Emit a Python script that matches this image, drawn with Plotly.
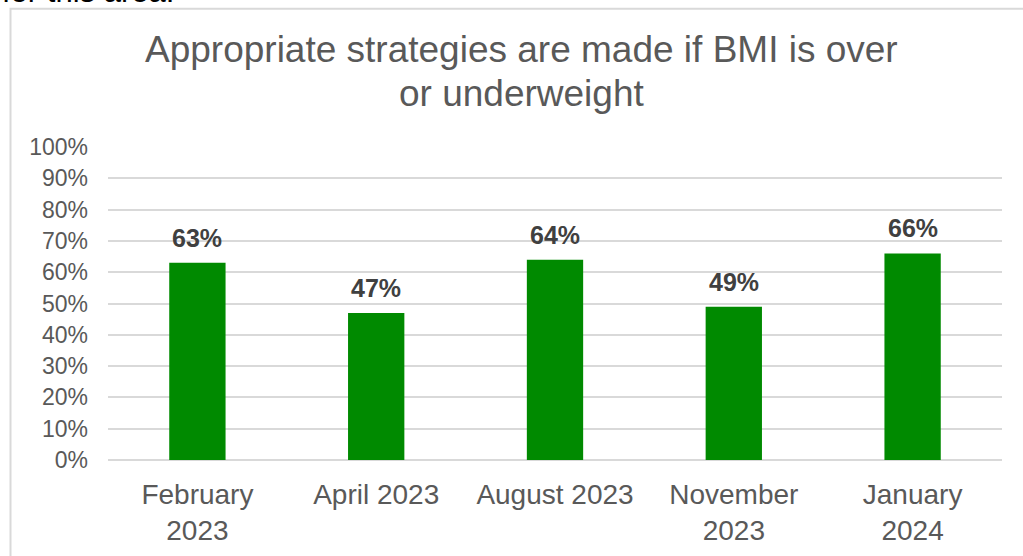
import plotly.graph_objects as go

# Survey results by audit month
periods = ["February<br>2023", "April 2023", "August 2023", "November<br>2023", "January<br>2024"]
compliance = [0.63, 0.47, 0.64, 0.49, 0.66]
tick_values = [0, 0.1, 0.2, 0.3, 0.4, 0.5, 0.6, 0.7, 0.8, 0.9, 1.0]
tick_labels = ["0%", "10%", "20%", "30%", "40%", "50%", "60%", "70%", "80%", "90%", "100%"]
title_lines = ["Appropriate strategies are made if BMI is over", "or underweight"]

W, H = 1023, 556
ML, MR, MT, MB = 108, 21, 147, 95.5
plot_w = W - ML - MR
plot_h = H - MT - MB

def px_to_paper_x(px):
    return (px - ML) / plot_w

def px_to_paper_y(py):
    return (H - MB - py) / plot_h

FONT = "Liberation Sans, Arial, sans-serif"

fig = go.Figure()
fig.add_trace(go.Bar(
    x=periods,
    y=compliance,
    marker=dict(color="#008A00", line=dict(width=0)),
    width=0.315,
    hoverinfo="skip",
))

# value labels above each bar
for cat, val in zip(periods, compliance):
    fig.add_annotation(
        x=cat, y=val, xref="x", yref="y",
        text=f"<b>{round(val * 100)}%</b>",
        showarrow=False, yanchor="bottom", yshift=9,
        font=dict(family=FONT, size=25, color="#404040"),
    )

# chart frame
fig.add_shape(
    type="rect", xref="paper", yref="paper",
    x0=px_to_paper_x(10.5), x1=px_to_paper_x(1040),
    y0=px_to_paper_y(570), y1=px_to_paper_y(8.5),
    line=dict(color="#D9D9D9", width=2), fillcolor="rgba(0,0,0,0)", layer="below",
)

# chart title, one annotation per line
for line, top_px in zip(title_lines, [27, 71]):
    fig.add_annotation(
        xref="paper", yref="paper",
        x=px_to_paper_x(521), y=px_to_paper_y(top_px),
        xanchor="center", yanchor="top",
        text=line, showarrow=False,
        font=dict(family=FONT, size=37, color="#595959"),
    )

# trailing text from the surrounding document
fig.add_annotation(
    xref="paper", yref="paper",
    x=px_to_paper_x(0), y=px_to_paper_y(11),
    xanchor="left", yanchor="bottom",
    text="for this area.", showarrow=False,
    font=dict(family=FONT, size=31, color="#000000"),
)

fig.update_layout(
    width=W, height=H,
    margin=dict(l=ML, r=MR, t=MT, b=MB, pad=0, autoexpand=False),
    paper_bgcolor="white", plot_bgcolor="white",
    showlegend=False,
    bargap=0.685,
)

fig.update_xaxes(
    showgrid=False, showline=False, zeroline=False, automargin=False,
    ticks="", ticklabelstandoff=15,
    tickfont=dict(family=FONT, size=28, color="#595959"),
)
fig.update_yaxes(
    range=[0, 1.0], tickvals=tick_values, ticktext=tick_labels,
    showgrid=True, gridcolor="#D9D9D9", gridwidth=1.5, automargin=False,
    zeroline=True, zerolinecolor="#D9D9D9", zerolinewidth=1.5,
    showline=False, ticks="", ticklabelstandoff=19,
    tickfont=dict(family=FONT, size=23, color="#595959"),
)

fig.write_html("out.html")
